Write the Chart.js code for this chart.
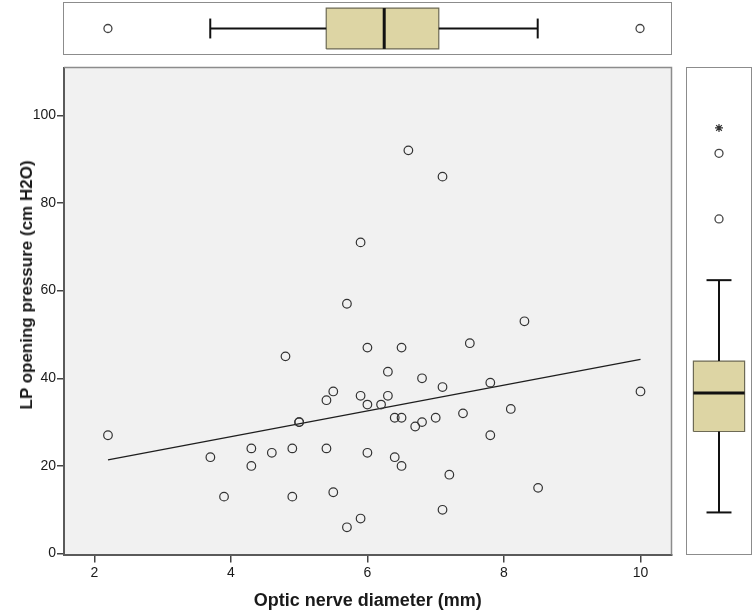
<!DOCTYPE html>
<html><head><meta charset="utf-8">
<script src="https://cdn.jsdelivr.net/npm/chart.js@4.4.1/dist/chart.umd.min.js"></script>
<style>
html,body{margin:0;padding:0;background:#fff;}
#wrap{position:relative;width:755px;height:616px;overflow:hidden;background:#fff;}
canvas{position:absolute;display:block;}
#main{left:0;top:0;}
#top{left:64px;top:3px;outline:1.5px solid #8c8c8c;}
#right{left:687px;top:68px;outline:1.5px solid #8c8c8c;}
#ytitle{position:absolute;left:27px;top:285px;transform:translate(-50%,-50%) rotate(-90deg);white-space:nowrap;font:bold 17px "Liberation Sans",Arial,sans-serif;color:#1a1a1a;}
</style></head>
<body><div id="wrap">
<canvas id="main" width="755" height="616"></canvas>
<canvas id="top" width="607" height="51"></canvas>
<canvas id="right" width="64" height="486"></canvas>
<div id="ytitle">LP opening pressure (cm H2O)</div>
</div>
<script>
// ---- data ----
const opticNerveDiameter = [2.2,3.7,3.9,4.3,4.3,4.6,4.8,4.9,4.9,5.0,5.0,5.4,5.4,5.5,5.5,5.7,5.7,5.9,5.9,5.9,6.0,6.0,6.0,6.2,6.3,6.3,6.4,6.4,6.5,6.5,6.5,6.6,6.7,6.8,6.8,7.0,7.1,7.1,7.1,7.2,7.4,7.5,7.8,7.8,8.1,8.3,8.5,10.0];
const lpOpeningPressure  = [27,22,13,24,20,23,45,24,13,30,30,35,24,37,14,57,6,71,36,8,47,34,23,34,41.5,36,31,22,47,31,20,92,29,40,30,31,86,38,10,18,32,48,39,27,33,53,15,37];
const fitX = [2.2, 10.0];
const fitY = [21.4, 44.3];
const xTickValues = [2,4,6,8,10];
const yTickValues = [0,20,40,60,80,100];
// box plot statistics: [lower whisker, Q1, median, Q3, upper whisker]
const ondBoxStats = [3.7, 5.4, 6.25, 7.05, 8.5];
const ondOutliers = [2.2, 10.0];
const ondExtremes = [];
const lpBoxStats = [4.1, 22.6, 31.4, 38.7, 57.2];
const lpOutliers = [71.2, 86.2];
const lpExtremes = [92];

const X_MIN = 1.556, X_MAX = 10.454;
const FONT = '"Liberation Sans", Arial, sans-serif';

const framePlugin = {
  id: 'frame',
  beforeDraw(chart) {
    const {ctx, chartArea: a} = chart;
    ctx.save();
    ctx.fillStyle = '#f1f1f1';
    ctx.fillRect(a.left, a.top, a.right - a.left, a.bottom - a.top);
    ctx.restore();
  },
  afterDraw(chart) {
    const {ctx, chartArea: a} = chart;
    ctx.save();
    ctx.strokeStyle = '#8c8c8c';
    ctx.lineWidth = 1.5;
    ctx.beginPath();
    ctx.moveTo(a.left, a.top);
    ctx.lineTo(a.right, a.top);
    ctx.lineTo(a.right, a.bottom);
    ctx.stroke();
    ctx.restore();
  }
};

new Chart(document.getElementById('main'), {
  type: 'scatter',
  data: {
    datasets: [
      {
        data: opticNerveDiameter.map((x, i) => ({x, y: lpOpeningPressure[i]})),
        pointRadius: 4.3,
        pointBorderColor: '#333',
        pointBorderWidth: 1.2,
        pointBackgroundColor: 'rgba(0,0,0,0)',
        pointHoverRadius: 4.3
      },
      {
        data: fitX.map((x, i) => ({x, y: fitY[i]})),
        showLine: true,
        pointRadius: 0,
        borderColor: '#1e1e1e',
        borderWidth: 1.3
      }
    ]
  },
  options: {
    responsive: false,
    animation: false,
    layout: {autoPadding: false, padding: {top: 67.5, right: 83.5, left: 0, bottom: 0}},
    plugins: {legend: {display: false}, tooltip: {enabled: false}},
    scales: {
      x: {
        type: 'linear', min: X_MIN, max: X_MAX,
        afterBuildTicks: s => { s.ticks = xTickValues.map(v => ({value: v})); },
        afterFit: s => { s.height = 61.5; },
        grid: {drawOnChartArea: false, drawTicks: true, tickLength: 8, color: '#444', lineWidth: 1.5},
        border: {display: true, color: '#5a5a5a', width: 2},
        ticks: {color: '#1a1a1a', font: {family: FONT, size: 14}, padding: 2, maxRotation: 0},
        title: {display: true, text: 'Optic nerve diameter (mm)', color: '#1a1a1a', font: {family: FONT, size: 18, weight: 'bold'}, padding: {top: 2, bottom: 4}}
      },
      y: {
        type: 'linear', min: -0.2, max: 110.9,
        afterBuildTicks: s => { s.ticks = yTickValues.map(v => ({value: v})); },
        afterFit: s => { s.width = 64; },
        grid: {drawOnChartArea: false, drawTicks: true, tickLength: 7, color: '#444', lineWidth: 1.5},
        border: {display: true, color: '#5a5a5a', width: 2},
        ticks: {color: '#1a1a1a', font: {family: FONT, size: 14}, padding: 1}
      }
    }
  },
  plugins: [framePlugin]
});

function boxplotDatasets(stats, outliers, extremes, horiz) {
  const [lo, q1, med, q3, hi] = stats;
  const P = (v, p) => horiz ? {x: v, y: p} : {x: p, y: v};
  const B = 0.8, C = 0.39;
  const line = (data, w) => ({data, showLine: true, pointRadius: 0, borderColor: '#111', borderWidth: w, order: 1});
  return [
    {data: outliers.map(v => P(v,0)), pointStyle: 'circle', pointRadius: 4, pointBorderColor: '#444',
     pointBackgroundColor: 'rgba(0,0,0,0)', pointBorderWidth: 1.3, order: 0},
    {data: extremes.map(v => P(v,0)), pointStyle: 'star', pointRadius: 4, pointBorderColor: '#333',
     pointBorderWidth: 1.2, order: 0},
    line([P(med,-B), P(med,B)], 3),
    line([P(lo,0), P(q1,0)], 2),
    line([P(q3,0), P(hi,0)], 2),
    line([P(lo,-C), P(lo,C)], 2),
    line([P(hi,-C), P(hi,C)], 2),
    {data: [P(q1,-B), P(q3,-B), P(q3,B), P(q1,B), P(q1,-B)], showLine: true, fill: 'shape',
     backgroundColor: '#ddd5a4', borderColor: '#6d6a55', borderWidth: 1.2, pointRadius: 0, order: 5}
  ];
}

const hiddenOpts = (xr, yr) => ({
  responsive: false,
  animation: false,
  layout: {autoPadding: false, padding: 0},
  plugins: {legend: {display: false}, tooltip: {enabled: false}},
  scales: {
    x: {type: 'linear', display: false, min: xr[0], max: xr[1]},
    y: {type: 'linear', display: false, min: yr[0], max: yr[1]}
  }
});

new Chart(document.getElementById('top'), {
  type: 'scatter',
  data: {datasets: boxplotDatasets(ondBoxStats, ondOutliers, ondExtremes, true)},
  options: hiddenOpts([X_MIN, X_MAX], [-1, 1])
});

new Chart(document.getElementById('right'), {
  type: 'scatter',
  data: {datasets: boxplotDatasets(lpBoxStats, lpOutliers, lpExtremes, false)},
  options: hiddenOpts([-1, 1], [-5.4, 105.7])
});
</script>
</body></html>
